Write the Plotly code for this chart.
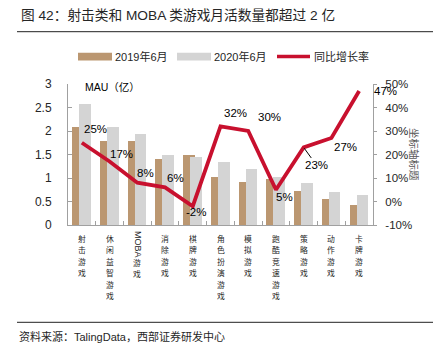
import plotly.graph_objects as go

categories = ["射击游戏", "休闲益智游戏", "MOBA游戏", "消除游戏", "棋牌游戏", "角色扮演游戏",
              "模拟游戏", "跑酷竞速游戏", "策略游戏", "动作游戏", "卡牌游戏"]
mau_2019 = [2.08, 1.78, 1.79, 1.40, 1.48, 1.02, 0.92, 0.97, 0.73, 0.56, 0.43]
mau_2020 = [2.58, 2.08, 1.93, 1.49, 1.45, 1.34, 1.19, 1.03, 0.89, 0.71, 0.63]
growth = [25, 17, 8, 6, -2, 32, 30, 5, 23, 27, 47]
growth_labels = ["25%", "17%", "8%", "6%", "-2%", "32%", "30%", "5%", "23%", "27%", "47%"]
left_ticks = [0, 0.5, 1, 1.5, 2, 2.5, 3]
left_tick_text = ["0", "0.5", "1", "1.5", "2", "2.5", "3"]
right_ticks = [-10, 0, 10, 20, 30, 40, 50]
right_tick_text = ["-10%", "0%", "10%", "20%", "30%", "40%", "50%"]

# label offsets (px) from each line point
lbl_dx = [14, 12, 8, 10, 3, 15, 21, 9, 0, 14, 26]
lbl_dy = [14, 8, 10, 9, -6, 13, 14, -7, 0, -9, 0]

FONT = "Liberation Sans, Arial, Noto Sans CJK SC, sans-serif"
CJK = "Noto Sans CJK SC, Liberation Sans, sans-serif"
BROWN = "#BB9771"
GRAY = "#D4D4D4"
RED = "#C8102E"
AXIS = "#A0A0A0"
TXT = "#262626"

# the page body has an 8px margin; work in reference-pixel coordinates
OFF = 8
W, H = 441 - 2 * OFF, 358 - 2 * OFF
L, R, T, B = 68 - OFF, 373 - OFF, 84 - OFF, 225 - OFF


def px(x):
    return (x - OFF - L) / (R - L)


def py(y):
    return (B - (y - OFF)) / (B - T)


fig = go.Figure()
fig.add_trace(go.Bar(x=categories, y=mau_2019, width=0.42, offset=-0.347,
                     marker=dict(color=BROWN, line=dict(width=0)), name="2019年6月",
                     showlegend=False))
fig.add_trace(go.Bar(x=categories, y=mau_2020, width=0.42, offset=-0.094,
                     marker=dict(color=GRAY, line=dict(width=0)), name="2020年6月",
                     showlegend=False))
fig.add_trace(go.Scatter(x=categories, y=growth, yaxis="y2", mode="lines",
                         line=dict(color=RED, width=3.8), name="同比增长率",
                         showlegend=False))

ann = []
shapes = []

# data labels
for i, (c, g, t) in enumerate(zip(categories, growth, growth_labels)):
    if t == "23%":
        ann.append(dict(x=c, y=g, xref="x", yref="y2", text=t, showarrow=True,
                        ax=13, ay=18, arrowhead=0, arrowwidth=1, arrowcolor="#000",
                        standoff=1, font=dict(family=FONT, size=11.5, color="#000")))
    else:
        ann.append(dict(x=c, y=g, xref="x", yref="y2", text=t, showarrow=False,
                        xshift=lbl_dx[i], yshift=lbl_dy[i],
                        font=dict(family=FONT, size=11.5, color="#000")))

# category labels: one character per line, stacked vertically
CH_SIZE = 7.8
CH_STEP = 11.4
FIRST = 13.5  # px below the x axis to the centre of the first character
for c in categories:
    if c.startswith("MOBA"):
        ann.append(dict(x=c, y=0, xref="x", yref="paper", text="MOBA", textangle=90,
                        showarrow=False, yanchor="middle", yshift=-19.3,
                        font=dict(family=FONT, size=9, color=TXT)))
        chars = list(c[4:])
        start = 37
    else:
        chars = list(c)
        start = FIRST
    for j, ch in enumerate(chars):
        ann.append(dict(x=c, y=0, xref="x", yref="paper", text=ch,
                        showarrow=False, yanchor="middle",
                        yshift=-(start + j * CH_STEP),
                        font=dict(family=CJK, size=CH_SIZE, color=TXT)))

# MAU unit label
ann.append(dict(x=px(83), y=py(87), xref="paper", yref="paper", text="MAU（亿）",
                showarrow=False, xanchor="left", yanchor="middle",
                font=dict(family=FONT, size=10.5, color="#000")))
# right axis title
ann.append(dict(x=px(415), y=py(154), xref="paper", yref="paper", text="坐标轴标题",
                textangle=90, showarrow=False, xanchor="center", yanchor="middle",
                font=dict(family=CJK, size=10.5, color="#595959")))

# title
ann.append(dict(x=px(19), y=py(15), xref="paper", yref="paper",
                text="图 42：射击类和 MOBA 类游戏月活数量都超过 2 亿",
                showarrow=False, xanchor="left", yanchor="middle",
                font=dict(family=FONT, size=13.7, color=TXT)))
# footer
ann.append(dict(x=px(17), y=py(336.5), xref="paper", yref="paper",
                text="资料来源：TalingData，西部证券研发中心",
                showarrow=False, xanchor="left", yanchor="middle",
                font=dict(family=FONT, size=11, color=TXT)))

# title/footer rules
shapes.append(dict(type="line", xref="paper", yref="paper", x0=px(17), x1=px(433),
                   y0=py(31.7), y1=py(31.7), line=dict(color="#222", width=1)))
shapes.append(dict(type="line", xref="paper", yref="paper", x0=px(17), x1=px(433),
                   y0=py(322.3), y1=py(322.3), line=dict(color="#222", width=1)))

# manual legend
leg = [("rect", BROWN, 78, 112, "2019年6月", 113),
       ("rect", GRAY, 177, 211, "2020年6月", 212),
       ("line", RED, 277, 310, "同比增长率", 312)]
for kind, col, x0, x1, label, tx in leg:
    if kind == "rect":
        shapes.append(dict(type="rect", xref="paper", yref="paper", x0=px(x0), x1=px(x1),
                           y0=py(60.5), y1=py(52.7), fillcolor=col, line=dict(width=0)))
    else:
        shapes.append(dict(type="line", xref="paper", yref="paper", x0=px(x0), x1=px(x1),
                           y0=py(56.5), y1=py(56.5), line=dict(color=col, width=3.6)))
    ann.append(dict(x=px(tx), y=py(56.5), xref="paper", yref="paper", text=label,
                    showarrow=False, xanchor="left", yanchor="middle",
                    font=dict(family=FONT, size=11, color=TXT)))

fig.update_layout(
    width=W, height=H,
    margin=dict(l=L, r=W - R, t=T, b=H - B, pad=0),
    paper_bgcolor="white", plot_bgcolor="white",
    barmode="overlay", bargap=0,
    showlegend=False,
    font=dict(family=FONT, color=TXT),
    xaxis=dict(type="category", range=[-0.5, 10.5], showline=True, linecolor=AXIS,
               linewidth=1, ticks="inside", tickson="boundaries", ticklen=4,
               tickcolor=AXIS, showticklabels=False, showgrid=False, zeroline=False,
               fixedrange=True),
    yaxis=dict(range=[0, 3], tickvals=left_ticks, ticktext=left_tick_text,
               showline=True, linecolor=AXIS,
               linewidth=1, ticks="inside", ticklen=4, tickcolor=AXIS, showgrid=False,
               zeroline=False, ticklabelstandoff=13,
               tickfont=dict(family=FONT, size=12, color=TXT)),
    yaxis2=dict(range=[-10, 50], tickvals=right_ticks, ticktext=right_tick_text,
                overlaying="y", side="right", showline=True, linecolor=AXIS,
                linewidth=1, ticks="outside", ticklen=3, tickcolor=AXIS,
                showgrid=False, zeroline=False, ticklabelstandoff=6,
                tickfont=dict(family=FONT, size=11.5, color=TXT)),
    annotations=ann,
    shapes=shapes,
)

fig.write_html("out.html")
